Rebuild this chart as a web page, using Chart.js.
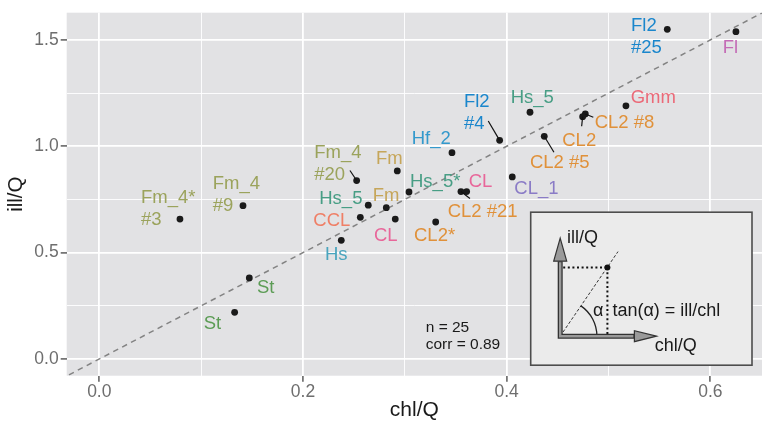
<!DOCTYPE html>
<html><head><meta charset="utf-8">
<script src="https://cdn.jsdelivr.net/npm/chart.js@4/dist/chart.umd.min.js"></script>
<style>html,body{margin:0;padding:0;background:#fff;}#wrap{width:762px;height:421px;}</style>
</head><body><div id="wrap"><canvas id="c" width="762" height="421"></canvas></div>
<script>
// ---- data ----
const labels = ['Fm_4*\n#3','Fm_4\n#9','Fm_4\n#20','Fm','Hs_5','Fm','Hs_5*','CCL','CL','Hs','CL2*','St','St',
  'Fl2\n#25','Fl','Gmm','CL2 #8','CL2','Hs_5','Fl2\n#4','CL2 #5','Hf_2','CL_1','CL2 #21','CL'];
const groups = ['Fm_4','Fm_4','Fm_4','Fm','Hs_5','Fm','Hs_5','CCL','CL','Hs','CL2','St','St',
  'Fl2','Fl','Gmm','CL2','CL2','Hs_5','Fl2','CL2','Hf_2','CL_1','CL2','CL'];
const chlQ = [0.0792,0.1411,0.2527,0.2926,0.2641,0.2818,0.3041,0.2563,0.2906,0.2376,0.3303,0.1473,0.1329,
  0.5577,0.6251,0.5171,0.4772,0.4746,0.4229,0.3931,0.4369,0.3463,0.4055,0.3551,0.3607];
const illQ = [0.658,0.721,0.839,0.884,0.723,0.7115,0.785,0.666,0.658,0.558,0.644,0.381,0.2196,
  1.550,1.539,1.190,1.152,1.139,1.160,1.028,1.047,0.970,0.856,0.787,0.787];
const refSlope = 2.5;
const xTicks = [0,0.1,0.2,0.3,0.4,0.5,0.6];
const xMajor = [0,0.2,0.4,0.6];
const yTicks = [0,0.25,0.5,0.75,1,1.25,1.5];
const yMajor = [0,0.5,1,1.5];
const statsLines = ['n = 25','corr = 0.89'];
const statsAnchor = {x:0.3205, y:0.1255};
const xTitle = 'chl/Q', yTitle = 'ill/Q';
const insetTexts = {y:'ill/Q', x:'chl/Q', alpha:'α', formula:'tan(α) = ill/chl'};

// ---- styles / layout ----
const groupColors = {Fm_4:'#9BA35C',Fm:'#C6A65A',Hs_5:'#489E85',CCL:'#EF7F66',CL:'#E8679A',Hs:'#4AA5BE',
  CL2:'#E0913A',St:'#5C9C55',Fl2:'#1A86CC',Fl:'#C46DB6',Gmm:'#EB6A78',Hf_2:'#3399CC',CL_1:'#8A7BC6'};
const labelDx = [-39,-30.3,-42.4,-21.3,-49,-13.6,1,-47,-21.3,-16.3,-21.7,7.7,-31,
  -36.3,-13.3,4.7,9.4,-20.4,-19.3,-35.7,-14.3,-40.3,2,-13.3,2];
const labelDy = [-16,-16.4,-22.5,-6.7,-1.3,-6.7,-4.7,8.4,21.7,19.5,18.7,15.3,16.7,
  2.2,21.8,-3.3,14.3,29.3,-9.6,-33,32,-8.4,17,25,-5];
const segEnd = {2:[-6.7,-10],16:[8,3.3],17:[-1,9.5],19:[-11.4,-19.3],20:[9.7,16],23:[9,7]};
const FONT = '"Liberation Sans", Arial, Helvetica, sans-serif';

const isMajor = (arr, v) => arr.some(m => Math.abs(m - v) < 1e-9);

const labelPlugin = {
  id: 'labels',
  beforeDraw(chart) {
    const {ctx, chartArea: a} = chart;
    ctx.save(); ctx.fillStyle = '#E2E2E4';
    ctx.fillRect(a.left, a.top, a.right - a.left, a.bottom - a.top); ctx.restore();
  },
  afterDatasetsDraw(chart) {
    const {ctx, scales: {x, y}, chartArea: a} = chart;
    ctx.save();
    ctx.beginPath(); ctx.rect(a.left, a.top, a.right - a.left, a.bottom - a.top); ctx.clip();
    // segments
    ctx.strokeStyle = '#111'; ctx.lineWidth = 1.2;
    Object.keys(segEnd).forEach(k => {
      const i = +k, px = x.getPixelForValue(chlQ[i]), py = y.getPixelForValue(illQ[i]);
      ctx.beginPath(); ctx.moveTo(px, py); ctx.lineTo(px + segEnd[k][0], py + segEnd[k][1]); ctx.stroke();
    });
    // labels
    ctx.font = '18.5px ' + FONT; ctx.textAlign = 'left'; ctx.textBaseline = 'alphabetic';
    labels.forEach((t, i) => {
      const px = x.getPixelForValue(chlQ[i]), py = y.getPixelForValue(illQ[i]);
      ctx.fillStyle = groupColors[groups[i]];
      t.split('\n').forEach((line, j) => ctx.fillText(line, px + labelDx[i], py + labelDy[i] + j * 21.5));
    });
    // stats
    ctx.fillStyle = '#1a1a1a'; ctx.font = '15.5px ' + FONT;
    const sx = x.getPixelForValue(statsAnchor.x), sy = y.getPixelForValue(statsAnchor.y);
    statsLines.forEach((l, j) => ctx.fillText(l, sx, sy + j * 16.5));
    ctx.restore();
    drawInset(ctx, a);
  }
};

function drawInset(ctx, a) {
  const bw = 221.3, bh = 153, bx = a.right - 10 - bw, by = a.bottom - 10.5 - bh;
  ctx.save();
  ctx.fillStyle = '#EBEBEB'; ctx.fillRect(bx, by, bw, bh);
  ctx.strokeStyle = '#4d4d4d'; ctx.lineWidth = 1.6; ctx.strokeRect(bx, by, bw, bh);
  const ox = bx + 29.5, oy = by + 124;
  const ex = bx + 87.3, ey = by + 39.4;
  const px = bx + 76.7, py = by + 55.4;
  // dashed ray
  ctx.setLineDash([3, 2]); ctx.lineWidth = 1; ctx.strokeStyle = '#333';
  ctx.beginPath(); ctx.moveTo(ox, oy); ctx.lineTo(ex, ey); ctx.stroke();
  // dotted projections
  ctx.setLineDash([2, 2.6]); ctx.lineWidth = 2; ctx.strokeStyle = '#111';
  ctx.beginPath(); ctx.moveTo(ox + 3, py); ctx.lineTo(px, py); ctx.stroke();
  ctx.beginPath(); ctx.moveTo(px, py); ctx.lineTo(px, oy - 2); ctx.stroke();
  ctx.setLineDash([]);
  // angle arc
  const ang = Math.atan2(oy - ey, ex - ox);
  ctx.lineWidth = 1.3; ctx.strokeStyle = '#222';
  ctx.beginPath(); ctx.arc(ox, oy, 36.7, -ang, 0); ctx.stroke();
  // arrows (L shape)
  const yTip = by + 26, xTip = bx + 125.7;
  const yHead = yTip + 23, xHead = xTip - 22;
  ctx.lineCap = 'butt'; ctx.lineJoin = 'miter';
  ctx.strokeStyle = '#333'; ctx.lineWidth = 5;
  ctx.beginPath(); ctx.moveTo(ox, yHead); ctx.lineTo(ox, oy); ctx.lineTo(xHead, oy); ctx.stroke();
  ctx.strokeStyle = '#9a9a9a'; ctx.lineWidth = 2.4;
  ctx.beginPath(); ctx.moveTo(ox, yHead + 1); ctx.lineTo(ox, oy); ctx.lineTo(xHead - 1, oy); ctx.stroke();
  ctx.fillStyle = '#9a9a9a'; ctx.strokeStyle = '#333'; ctx.lineWidth = 1.2;
  ctx.beginPath(); ctx.moveTo(ox, yTip); ctx.lineTo(ox - 6.5, yHead); ctx.lineTo(ox + 6.5, yHead); ctx.closePath(); ctx.fill(); ctx.stroke();
  ctx.beginPath(); ctx.moveTo(xTip, oy); ctx.lineTo(xHead, oy - 5.5); ctx.lineTo(xHead, oy + 5.5); ctx.closePath(); ctx.fill(); ctx.stroke();
  // point
  ctx.fillStyle = '#111'; ctx.beginPath(); ctx.arc(px, py, 3, 0, 2 * Math.PI); ctx.fill();
  // texts
  ctx.fillStyle = '#1a1a1a'; ctx.font = '18px ' + FONT; ctx.textBaseline = 'alphabetic'; ctx.textAlign = 'left';
  ctx.fillText(insetTexts.y, bx + 36.3, by + 30.7);
  ctx.fillText(insetTexts.x, bx + 124, by + 138.7);
  ctx.fillText(insetTexts.alpha, bx + 62.3, by + 103.4);
  ctx.fillText(insetTexts.formula, bx + 81.7, by + 103.4);
  ctx.restore();
}

const xMin = -0.032, xMax = 0.6507, yMin = -0.0785, yMax = 1.628;
const refLine = [xMin - 0.05, xMax + 0.05].map(v => ({x: v, y: refSlope * v}));

function gridOpts(major) {
  return {
    color: '#ffffff',
    lineWidth: c => isMajor(major, c.tick.value) ? 1.8 : 0.9,
    tickColor: c => isMajor(major, c.tick.value) ? '#666666' : 'rgba(0,0,0,0)',
    tickWidth: 1.6,
    tickLength: 6,
    drawTicks: true
  };
}

new Chart(document.getElementById('c').getContext('2d'), {
  type: 'scatter',
  data: {
    datasets: [
      {data: refLine, showLine: true, borderColor: '#838383', borderWidth: 1.5, borderDash: [5.5, 4.5],
       pointRadius: 0, fill: false, order: 2},
      {data: chlQ.map((v, i) => ({x: v, y: illQ[i]})), pointRadius: 3.4, pointHoverRadius: 3.4,
       backgroundColor: '#1a1a1a', borderWidth: 0, order: 1}
    ]
  },
  options: {
    responsive: false, animation: false, devicePixelRatio: 1,
    layout: {autoPadding: false, padding: {top: 12.7, left: 0, right: 0, bottom: 0}},
    plugins: {legend: {display: false}, tooltip: {enabled: false}},
    scales: {
      x: {
        type: 'linear', min: xMin, max: xMax,
        afterBuildTicks: s => { s.ticks = xTicks.map(v => ({value: v})); },
        afterFit: s => { s.height = 45.3; },
        border: {display: false},
        grid: gridOpts(xMajor),
        ticks: {autoSkip: false, maxRotation: 0, padding: 0, color: '#6e6e6e',
          font: {family: FONT, size: 17.5},
          callback: v => isMajor(xMajor, v) ? v.toFixed(1) : ''},
        title: {display: true, text: xTitle, color: '#1a1a1a', padding: {top: 0, bottom: 0},
          font: {family: FONT, size: 21, lineHeight: 1}}
      },
      y: {
        type: 'linear', min: yMin, max: yMax,
        afterBuildTicks: s => { s.ticks = yTicks.map(v => ({value: v})); },
        afterFit: s => { s.width = 66.7; },
        border: {display: false},
        grid: gridOpts(yMajor),
        ticks: {autoSkip: false, padding: 2, color: '#6e6e6e',
          font: {family: FONT, size: 17.5},
          callback: v => isMajor(yMajor, v) ? v.toFixed(1) : ''},
        title: {display: true, text: yTitle, color: '#1a1a1a', padding: {top: 5.6, bottom: 0},
          font: {family: FONT, size: 20.5, lineHeight: 1}}
      }
    }
  },
  plugins: [labelPlugin]
});
</script></body></html>
